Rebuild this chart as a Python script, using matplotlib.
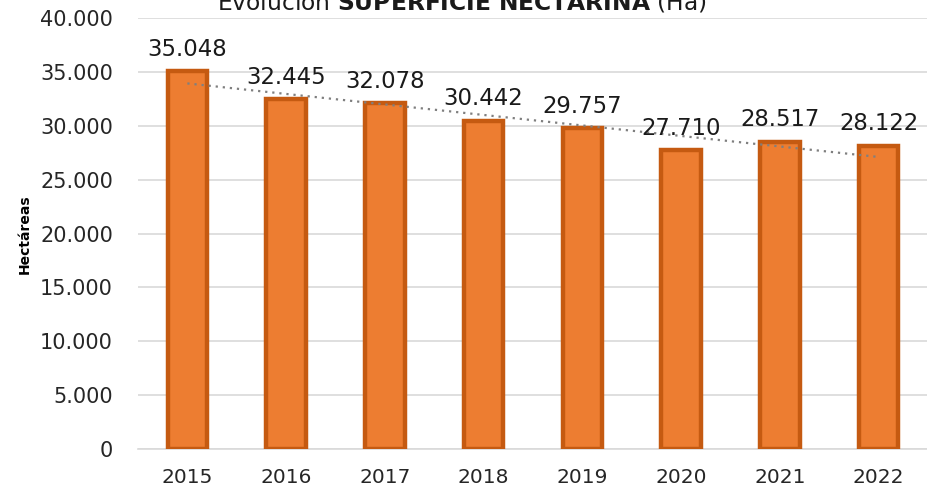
import matplotlib
matplotlib.use('Agg')
import matplotlib.pyplot as plt
import numpy as np

YEARS = ['2015', '2016', '2017', '2018', '2019', '2020', '2021', '2022']
HECTARES = [35048, 32445, 32078, 30442, 29757, 27710, 28517, 28122]
Y_TICKS = [0, 5000, 10000, 15000, 20000, 25000, 30000, 35000, 40000]

BAR_FILL = '#ED7D31'
BAR_EDGE = '#C55A11'
GRID = '#D9D9D9'
TEXT = '#262626'


def fmt_thousands(v):
    return '{:,}'.format(int(v)).replace(',', '.')


def main():
    plt.rcParams['font.family'] = ['DejaVu Sans']
    plt.rcParams['mathtext.fontset'] = 'dejavusans'

    fig = plt.figure(figsize=(9.28, 4.88), dpi=100)
    ax = fig.add_axes([138 / 928, 1 - 449 / 488, 1 - 138 / 928, (449 - 18) / 488])

    x = np.arange(len(YEARS))
    ax.bar(x, HECTARES, width=0.40, color=BAR_FILL, edgecolor=BAR_EDGE, linewidth=3.2, zorder=3)

    # linear trend line
    slope, intercept = np.polyfit(x, HECTARES, 1)
    ax.plot(x, slope * x + intercept, color='#7F7F7F', linestyle=(0, (1, 2.2)),
            linewidth=1.6, zorder=4)

    for xi, v in zip(x, HECTARES):
        ax.annotate(fmt_thousands(v), (xi, v), xytext=(0, 16), textcoords='offset points',
                    ha='center', va='center', fontsize=16.4, color='#1a1a1a', zorder=5)

    ax.set_xlim(-0.5, len(YEARS) - 0.5)
    ax.set_ylim(0, 40000)
    ax.set_yticks(Y_TICKS)
    ax.set_yticklabels([fmt_thousands(t) for t in Y_TICKS])
    ax.set_xticks(x)
    ax.set_xticklabels(YEARS)
    ax.tick_params(axis='y', length=0, pad=18, labelsize=15, labelcolor=TEXT)
    ax.tick_params(axis='x', length=0, pad=14, labelsize=14.5, labelcolor=TEXT)

    ax.grid(axis='y', color=GRID, linewidth=1.2, zorder=0)
    for side in ['top', 'right', 'left']:
        ax.spines[side].set_visible(False)
    ax.spines['bottom'].set_color(GRID)
    ax.spines['bottom'].set_linewidth(1.2)

    fig.text(25 / 928, 1 - 234 / 488, 'Hectáreas', rotation=90, ha='center', va='center',
             fontsize=10, fontweight='bold', color='#000000')

    # title sits partly above the top edge, as in the original
    fig.text(462 / 928, 1 - 9 / 488, r'Evolución $\bf{SUPERFICIE\ NECTARINA}$ (Ha)',
             ha='center', va='baseline', fontsize=16.8, color='#1a1a1a')

    fig.savefig('out.png', dpi=100)


if __name__ == '__main__':
    main()
